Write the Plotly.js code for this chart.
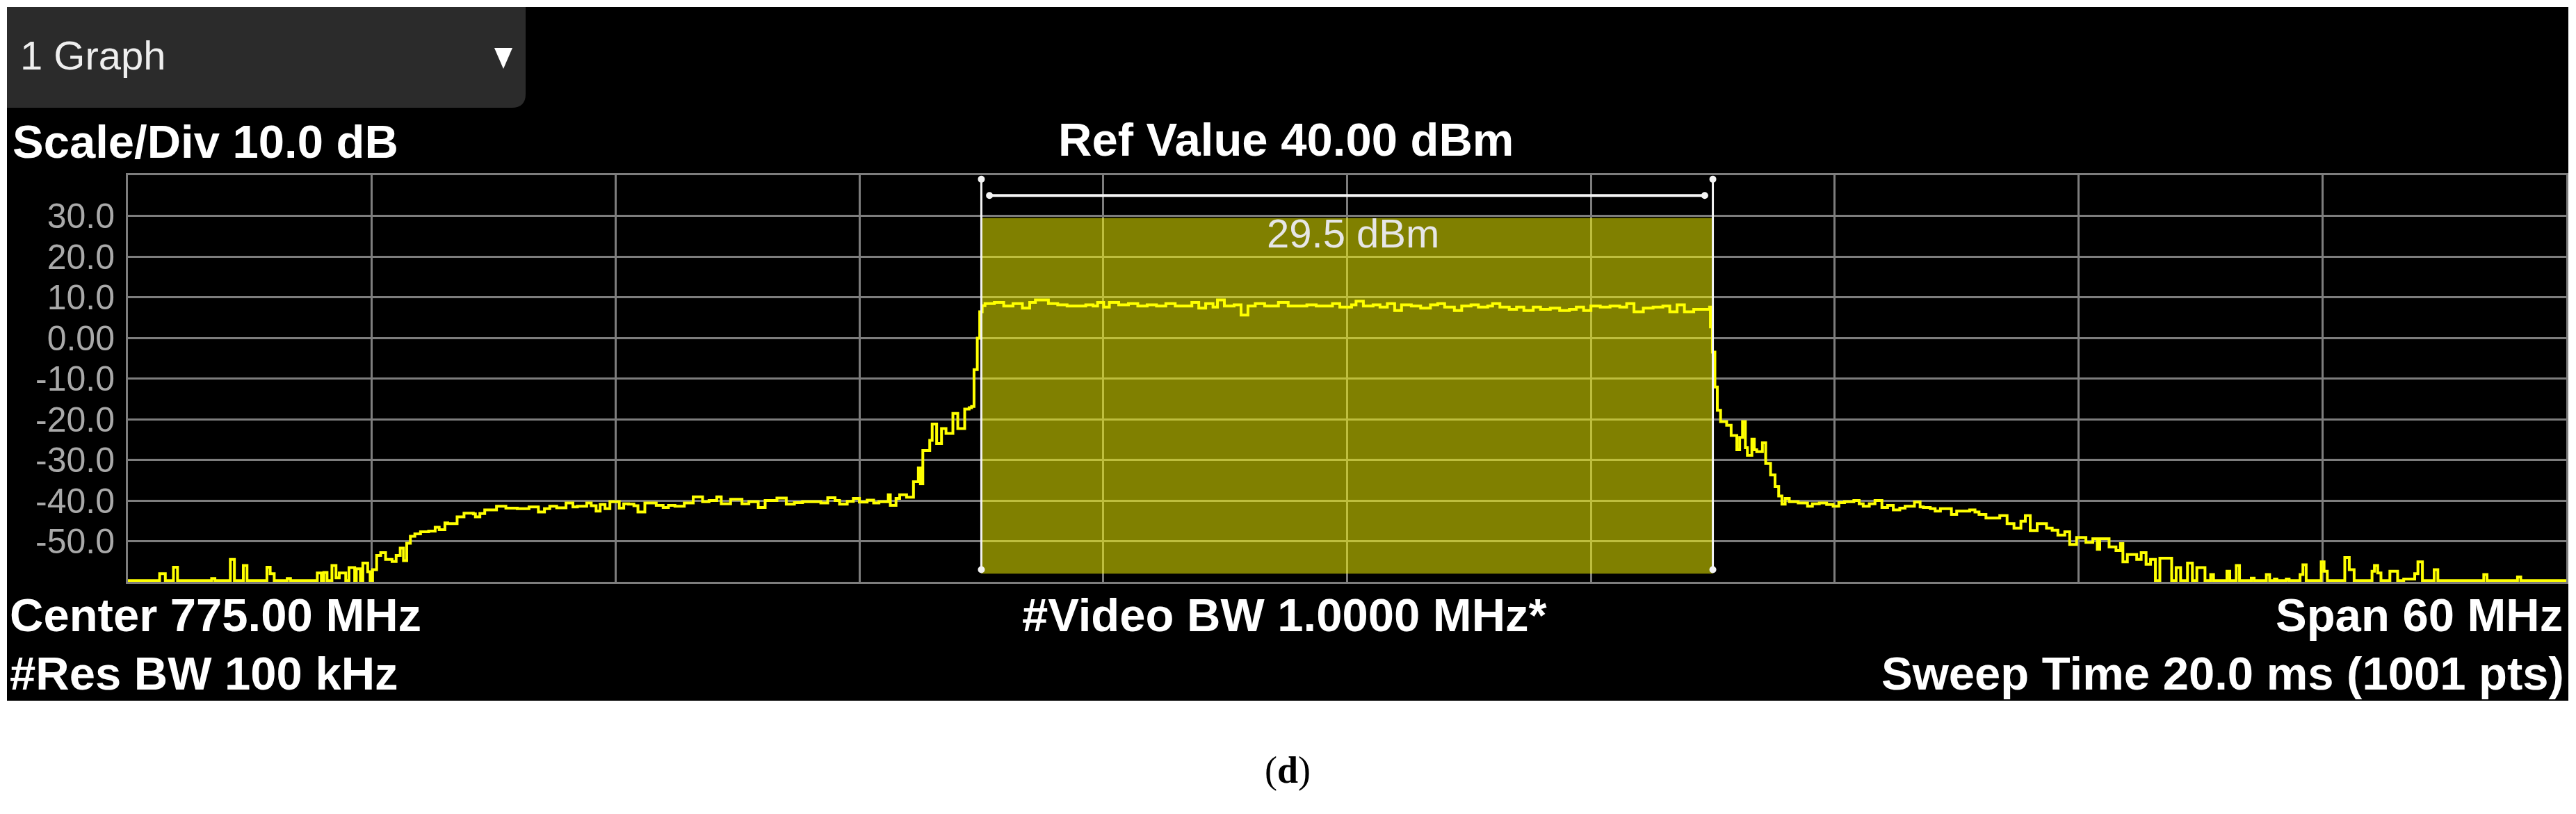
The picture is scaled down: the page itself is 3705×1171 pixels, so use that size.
<!DOCTYPE html>
<html>
<head>
<meta charset="utf-8">
<script src="https://cdn.plot.ly/plotly-3.0.1.min.js"></script>
<style>
  html, body { margin: 0; padding: 0; background: #ffffff; }
  #chart { width: 3705px; height: 1171px; }
</style>
</head>
<body>
<div id="chart"></div>
<script>
// ---------------- data ----------------
const freqMHz = [
  745.00, 745.78, 745.92, 746.12, 746.22, 747.06, 747.14, 747.52, 747.62, 747.84,
  747.93, 748.42, 748.50, 748.60, 748.92, 749.00, 749.66, 749.76, 749.82, 749.90,
  750.02, 750.12, 750.20, 750.36, 750.44, 750.58, 750.62, 750.72, 750.78, 750.90,
  750.96, 751.02, 751.12, 751.22, 751.34, 751.50, 751.60, 751.70, 751.78, 751.86,
  751.95, 752.06, 752.20, 752.40, 752.56, 752.66, 752.80, 752.87, 753.10, 753.27,
  753.50, 753.55, 753.66, 753.78, 754.07, 754.30, 754.58, 754.87, 755.10, 755.25,
  755.38, 755.55, 755.78, 755.95, 756.06, 756.29, 756.40, 756.52, 756.62, 756.74,
  756.86, 757.09, 757.20, 757.32, 757.45, 757.55, 757.72, 758.00, 758.17, 758.30,
  758.46, 758.69, 758.91, 759.14, 759.30, 759.49, 759.60, 759.83, 760.11, 760.28,
  760.51, 760.68, 760.97, 761.20, 761.40, 761.60, 761.88, 762.05, 762.22, 762.40,
  762.51, 762.70, 762.85, 763.00, 763.19, 763.35, 763.48, 763.71, 763.76, 763.90,
  763.99, 764.16, 764.33, 764.45, 764.50, 764.56, 764.73, 764.79, 764.90, 765.02,
  765.13, 765.30, 765.42, 765.59, 765.70, 765.76, 765.82, 765.90, 765.96, 766.02,
  766.09, 766.32, 766.55, 766.78, 767.01, 767.19, 767.33, 767.48, 767.65, 767.88,
  768.11, 768.34, 768.57, 768.75, 768.86, 769.01, 769.15, 769.38, 769.62, 769.85,
  770.08, 770.31, 770.54, 770.77, 771.00, 771.18, 771.35, 771.52, 771.70, 771.81,
  771.98, 772.22, 772.39, 772.56, 772.74, 772.97, 773.14, 773.31, 773.55, 773.78,
  774.01, 774.24, 774.47, 774.64, 774.82, 775.11, 775.22, 775.40, 775.64, 775.81,
  775.99, 776.17, 776.34, 776.58, 776.81, 777.05, 777.23, 777.40, 777.64, 777.82,
  778.05, 778.23, 778.46, 778.58, 778.76, 778.99, 779.17, 779.35, 779.58, 779.76,
  780.00, 780.23, 780.47, 780.64, 780.82, 781.00, 781.23, 781.47, 781.71, 781.88,
  782.06, 782.29, 782.53, 782.77, 782.94, 783.12, 783.30, 783.53, 783.77, 783.92,
  783.94, 783.99, 784.05, 784.11, 784.19, 784.34, 784.45, 784.59, 784.66, 784.73,
  784.80, 784.85, 784.96, 785.02, 785.08, 785.22, 785.30, 785.42, 785.53, 785.62,
  785.70, 785.78, 785.88, 786.10, 786.33, 786.45, 786.62, 786.80, 786.96, 787.10,
  787.24, 787.47, 787.60, 787.70, 787.85, 787.99, 788.16, 788.30, 788.44, 788.60,
  788.73, 788.96, 789.10, 789.18, 789.35, 789.47, 789.60, 789.70, 789.87, 790.00,
  790.15, 790.32, 790.45, 790.55, 790.72, 791.06, 791.24, 791.41, 791.58, 791.69,
  791.81, 791.98, 792.21, 792.35, 792.49, 792.66, 792.78, 792.95, 793.18, 793.35,
  793.46, 793.52, 793.75, 793.92, 794.03, 794.09, 794.20, 794.43, 794.54, 794.66,
  794.77, 794.89, 795.00, 795.17, 795.29, 795.40, 795.51, 795.68, 795.80, 795.91,
  796.03, 796.11, 796.25, 796.32, 796.65, 796.72, 796.88, 796.96, 797.25, 797.32,
  797.62, 797.70, 797.82, 797.88, 798.11, 798.18, 798.45, 798.52, 798.60, 798.97,
  799.04, 799.12, 799.55, 799.66, 799.78, 800.22, 800.28, 800.36, 800.44, 800.66,
  800.85, 801.00, 801.27, 801.35, 801.46, 801.75, 801.84, 802.97, 803.05, 803.80,
  803.88, 805.00
];
const powerDbm = [
  -59.7, -58.0, -59.7, -56.4, -59.7, -59.2, -59.7, -54.5, -59.7, -56.0,
  -59.7, -56.4, -58.0, -59.7, -59.2, -59.7, -57.8, -59.7, -57.7, -59.7,
  -56.0, -59.0, -57.8, -59.7, -56.5, -59.7, -56.8, -59.7, -55.4, -57.5,
  -59.7, -57.0, -53.5, -52.8, -54.5, -55.0, -53.5, -51.7, -54.8, -50.5,
  -48.8, -48.2, -47.7, -47.5, -46.6, -47.2, -45.5, -45.7, -44.0, -43.1,
  -43.3, -44.0, -43.2, -42.3, -41.4, -41.9, -42.0, -41.6, -42.8, -42.0,
  -41.4, -41.8, -40.6, -41.6, -41.4, -40.6, -41.3, -42.6, -41.0, -42.0,
  -40.3, -41.9, -40.8, -40.9, -41.3, -42.8, -40.6, -41.2, -41.7, -41.2,
  -41.4, -40.6, -39.1, -40.3, -40.0, -39.1, -40.8, -39.7, -40.8, -40.3,
  -41.7, -40.0, -39.4, -40.9, -40.5, -40.3, -40.3, -40.6, -39.3, -40.0,
  -40.9, -40.2, -39.5, -40.4, -39.9, -40.6, -40.3, -38.6, -41.2, -39.5,
  -38.6, -39.2, -35.4, -32.0, -35.9, -27.7, -25.2, -21.2, -26.0, -22.3,
  -23.5, -18.6, -22.3, -17.5, -17.2, -16.9, -7.8, -0.1, 6.4, 7.9,
  8.4, 8.7, 7.8, 8.4, 7.3, 8.7, 9.3, 9.3, 8.4, 8.1,
  7.8, 7.8, 8.1, 7.8, 8.7, 7.55, 8.7, 8.1, 8.4, 7.8,
  8.1, 7.8, 8.4, 7.8, 7.8, 8.7, 7.3, 8.4, 7.55, 9.3,
  7.8, 8.1, 5.6, 7.8, 8.4, 7.8, 7.8, 8.7, 7.8, 7.8,
  8.1, 7.8, 7.8, 8.4, 7.55, 8.1, 9.0, 7.8, 8.1, 7.55,
  8.4, 6.7, 8.1, 7.8, 7.3, 8.1, 8.4, 7.55, 6.7, 7.8,
  8.1, 7.55, 7.8, 8.4, 7.55, 7.0, 7.55, 6.7, 7.55, 7.0,
  7.3, 6.7, 7.0, 7.55, 6.7, 7.8, 7.55, 7.8, 7.55, 8.4,
  6.4, 7.3, 7.55, 7.8, 6.4, 8.1, 6.4, 7.0, 7.0, 7.55,
  2.7, -3.5, -12.1, -17.8, -20.6, -21.5, -24.0, -27.5, -24.5, -20.6,
  -27.0, -28.9, -24.9, -27.5, -28.0, -25.8, -30.9, -33.7, -36.6, -38.9,
  -40.9, -39.5, -40.3, -40.6, -41.4, -40.8, -40.6, -41.0, -41.4, -40.5,
  -40.3, -40.0, -40.8, -41.4, -40.8, -40.0, -41.7, -41.2, -42.3, -41.9,
  -41.4, -40.4, -41.6, -41.7, -42.0, -42.6, -42.0, -42.0, -43.4, -42.6,
  -42.6, -42.3, -42.8, -43.4, -44.3, -43.7, -45.7, -46.8, -45.1, -43.7,
  -47.4, -45.7, -46.8, -47.3, -48.5, -47.7, -50.8, -49.1, -50.3, -49.4,
  -52.0, -49.4, -51.4, -52.3, -50.6, -55.1, -53.3, -54.5, -52.8, -55.7,
  -54.5, -59.7, -54.2, -54.2, -59.7, -56.5, -59.7, -55.4, -59.7, -56.5,
  -56.5, -59.7, -58.2, -59.7, -57.4, -59.7, -56.0, -59.7, -59.1, -59.7,
  -58.2, -59.7, -59.3, -59.7, -59.3, -59.7, -58.2, -55.8, -59.7, -55.1,
  -57.4, -59.7, -54.0, -57.0, -59.7, -57.4, -56.0, -57.8, -59.7, -57.4,
  -59.7, -59.3, -58.0, -55.1, -59.7, -57.0, -59.7, -58.2, -59.7, -58.8,
  -59.7, -59.7
];

const yTickVals   = [30, 20, 10, 0, -10, -20, -30, -40, -50];
const yTickText   = ["30.0", "20.0", "10.0", "0.00", "-10.0", "-20.0", "-30.0", "-40.0", "-50.0"];
const xGridVals   = [751, 757, 763, 769, 775, 781, 787, 793, 799];

const centerMHz = 775;
const spanMHz = 60;
const refLevel = 40;
const bottomLevel = -60;
const bandStartMHz = 766;
const bandEndMHz = 784;
const channelPowerDbm = 29.5;
const channelPowerLabel = "29.5 dBm";

// ---------------- layout helpers (pixel -> paper) ----------------
const W = 3705, H = 1171;
const PL = 184, PR = 3691, PT = 252, PB = 837;
const fx = px => (px - PL) / (PR - PL);
const fy = py => (PB - py) / (PB - PT);

const SANS = "Liberation Sans, Arial, Helvetica, sans-serif";
const GRID = "#7d7d7d";

function label(text, px, py, xanchor, size, opts) {
  opts = opts || {};
  return {
    text: text, xref: "paper", yref: "paper", x: fx(px), y: fy(py),
    xanchor: xanchor, yanchor: "middle", showarrow: false,
    font: { family: opts.family || SANS, size: size, color: opts.color || "#ffffff",
            weight: opts.weight || "normal" }
  };
}

const shapes = [
  // black instrument panel
  { type: "rect", xref: "paper", yref: "paper", layer: "below",
    x0: fx(10), x1: fx(3694), y0: fy(1008), y1: fy(10),
    fillcolor: "#000000", line: { width: 0 } },
  // "1 Graph" dropdown box with rounded bottom-right corner
  { type: "path", xref: "paper", yref: "paper", layer: "below",
    path: `M ${fx(10)},${fy(10)} L ${fx(756)},${fy(10)} L ${fx(756)},${fy(135)} ` +
          `Q ${fx(756)},${fy(155)} ${fx(736)},${fy(155)} L ${fx(10)},${fy(155)} Z`,
    fillcolor: "#2b2b2b", line: { width: 0 } },
  // dropdown triangle
  { type: "path", xref: "paper", yref: "paper", layer: "above",
    path: `M ${fx(711)},${fy(69)} L ${fx(737)},${fy(69)} L ${fx(724)},${fy(99)} Z`,
    fillcolor: "#ffffff", line: { width: 0 } },
  // channel power band
  { type: "rect", xref: "x", yref: "y", layer: "between",
    x0: bandStartMHz, x1: bandEndMHz, y0: -58, y1: channelPowerDbm,
    fillcolor: "rgba(255,255,0,0.5)", line: { width: 0 } },
  // band edge markers
  { type: "line", xref: "x", yref: "y", layer: "above",
    x0: bandStartMHz, x1: bandStartMHz, y0: -57, y1: 39,
    line: { color: "#f4f4f4", width: 3 } },
  { type: "line", xref: "x", yref: "y", layer: "above",
    x0: bandEndMHz, x1: bandEndMHz, y0: -57, y1: 39,
    line: { color: "#f4f4f4", width: 3 } },
  // bandwidth arrow line
  { type: "line", xref: "x", yref: "y", layer: "above",
    x0: bandStartMHz + 0.2, x1: bandEndMHz - 0.2, y0: 35, y1: 35,
    line: { color: "#f4f4f4", width: 4 } }
];
// end dots
[[bandStartMHz, 39], [bandStartMHz, -57], [bandEndMHz, 39], [bandEndMHz, -57],
 [bandStartMHz + 0.2, 35], [bandEndMHz - 0.2, 35]].forEach(p => {
  shapes.push({ type: "circle", xref: "x", yref: "y", layer: "above",
    xsizemode: "pixel", ysizemode: "pixel", xanchor: p[0], yanchor: p[1],
    x0: -5, x1: 5, y0: -5, y1: 5, fillcolor: "#f4f4f4", line: { width: 0 } });
});

const annotations = [
  label("1 Graph", 27, 80, "left", 58, { color: "#eeeeee" }),
  label("Scale/Div 10.0 dB", 16, 203, "left", 67, { weight: "bold" }),
  label("Ref Value 40.00 dBm", 1849, 200, "center", 67, { weight: "bold" }),
  label("Center 775.00 MHz", 12, 884, "left", 67, { weight: "bold" }),
  label("#Video BW 1.0000 MHz*", 1848, 884, "center", 67, { weight: "bold" }),
  label("Span 60 MHz", 3688, 884, "right", 67, { weight: "bold" }),
  label("#Res BW 100 kHz", 12, 968, "left", 67, { weight: "bold" }),
  label("Sweep Time 20.0 ms (1001 pts)", 3690, 968, "right", 67, { weight: "bold" }),
  label("(<b>d</b>)", 1852, 1108, "center", 54, { family: "Liberation Serif, Times New Roman, serif", color: "#000000" }),
  { text: channelPowerLabel, xref: "x", yref: "y", x: centerMHz + 0.15, y: 25.8,
    xanchor: "center", yanchor: "middle", showarrow: false,
    font: { family: SANS, size: 58, color: "#e6e6e6" } }
];

const trace = {
  type: "scatter", mode: "lines",
  x: freqMHz, y: powerDbm,
  line: { color: "#ffff00", width: 4, shape: "hv" },
  hoverinfo: "skip"
};

const layout = {
  width: W, height: H,
  margin: { l: PL, r: W - PR, t: PT, b: H - PB, pad: 0 },
  paper_bgcolor: "#ffffff",
  plot_bgcolor: "#000000",
  showlegend: false,
  xaxis: {
    range: [centerMHz - spanMHz / 2, centerMHz + spanMHz / 2],
    tickmode: "array", tickvals: xGridVals, showticklabels: false, ticks: "",
    showgrid: true, gridcolor: GRID, gridwidth: 3, zeroline: false,
    showline: true, mirror: true, linecolor: GRID, linewidth: 3, fixedrange: true
  },
  yaxis: {
    range: [bottomLevel, refLevel],
    tickmode: "array", tickvals: yTickVals, ticktext: yTickText, ticks: "",
    ticklabelstandoff: 6,
    tickfont: { family: SANS, size: 50, color: "#a9a9a9" },
    showgrid: true, gridcolor: GRID, gridwidth: 3, zeroline: false,
    showline: true, mirror: true, linecolor: GRID, linewidth: 3, fixedrange: true
  },
  shapes: shapes,
  annotations: annotations
};

Plotly.newPlot("chart", [trace], layout, { displayModeBar: false, staticPlot: true });
</script>
</body>
</html>
